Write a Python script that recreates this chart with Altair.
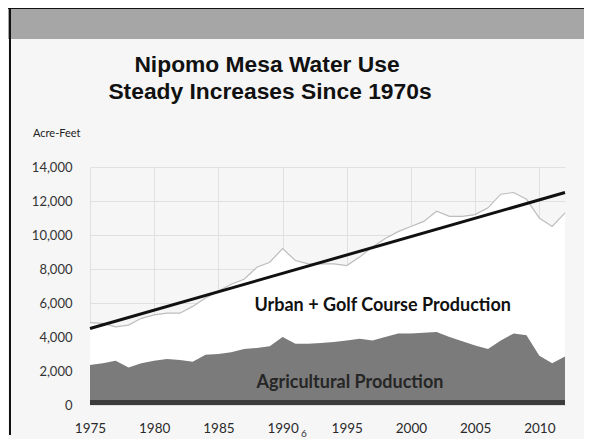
import altair as alt
import pandas as pd

years = list(range(1975, 2013))
total = [4850, 4800, 4600, 4700, 5100, 5300, 5400, 5400, 5800, 6300,
         6700, 7100, 7400, 8100, 8400, 9200, 8500, 8300, 8300, 8300,
         8200, 8700, 9300, 9800, 10200, 10500, 10800, 11400, 11100, 11100,
         11200, 11600, 12400, 12500, 12100, 11000, 10500, 11300]
ag = [2350, 2450, 2600, 2200, 2450, 2600, 2700, 2650, 2550, 2950,
      3000, 3100, 3300, 3350, 3450, 4000, 3600, 3600, 3650, 3700,
      3800, 3900, 3800, 4000, 4200, 4200, 4250, 4300, 4000, 3750,
      3500, 3300, 3800, 4200, 4100, 2900, 2450, 2850]
base = [300] * len(years)

trend_years = [1975, 2012]
trend_vals = [4500, 12500]

x_ticks = [1975, 1980, 1985, 1990, 1995, 2000, 2005, 2010]
y_ticks = [0, 2000, 4000, 6000, 8000, 10000, 12000, 14000]

title_lines = ["Nipomo Mesa Water Use", "Steady Increases Since 1970s"]

df = pd.DataFrame({"year": years, "total": total, "ag": ag, "base": base})
tdf = pd.DataFrame({"year": trend_years, "v": trend_vals})

FONT = "Lato"

xscale = alt.Scale(domain=[1975, 2012], nice=False, zero=False)
yscale = alt.Scale(domain=[0, 14000], nice=False)
xaxis = alt.Axis(values=x_ticks, format="d", title=None, tickSize=0,
                 labelPadding=16, domain=False, grid=True, labelFlush=False,
                 gridColor="#e0e0e0", labelFont=FONT, labelFontSize=13.5,
                 labelColor="#2a2a2a")
yaxis = alt.Axis(values=y_ticks, format=",d", title=None, tickSize=0,
                 labelPadding=18, domain=False, grid=True, labelFlush=False,
                 gridColor="#e0e0e0", labelFont=FONT, labelFontSize=13,
                 labelColor="#333333")


def X(f):
    return alt.X(f, scale=xscale, axis=xaxis, title=None)


def Y(f):
    return alt.Y(f, scale=yscale, axis=yaxis, title=None)


b = alt.Chart(df)
urban = b.mark_area(color="white", opacity=1).encode(x=X("year:Q"), y=Y("total:Q"), y2="ag:Q")
urban_line = b.mark_line(color="#bdbdbd", strokeWidth=1.2).encode(x=X("year:Q"), y=Y("total:Q"))
agri = b.mark_area(color="#7b7b7b", opacity=1).encode(x=X("year:Q"), y=Y("ag:Q"), y2=alt.datum(0))
strip = b.mark_area(color="#3c3c3c", opacity=1).encode(x=X("year:Q"), y=Y("base:Q"), y2=alt.datum(0))
trend = alt.Chart(tdf).mark_line(color="#111111", strokeWidth=3).encode(x=X("year:Q"), y=Y("v:Q"))

labels = pd.DataFrame({
    "year": [1997.8, 1995.25],
    "v": [5850, 1290],
    "t": ["Urban + Golf Course Production", "Agricultural Production"],
    "c": ["#111111", "#262626"],
})
lab = alt.Chart(labels).mark_text(font=FONT, fontSize=18, fontWeight="bold",
                                  align="center", baseline="middle").encode(
    x=X("year:Q"), y=Y("v:Q"), text="t:N", color=alt.Color("c:N", scale=None))

# decorations (slide frame)
deco = pd.DataFrame({"k": [1]})
band = alt.Chart(deco).mark_rect(color="#a6a6a6").encode(
    x=alt.value(-82), x2=alt.value(494), y=alt.value(-159), y2=alt.value(-128))
frame_top = alt.Chart(deco).mark_rule(color="#111111", strokeWidth=2).encode(
    x=alt.value(-82), x2=alt.value(494), y=alt.value(-159))
frame_left = alt.Chart(deco).mark_rule(color="#111111", strokeWidth=2).encode(
    x=alt.value(-80), y=alt.value(-159), y2=alt.value(268))

title1 = alt.Chart(deco).mark_text(text=title_lines[0], font="Liberation Sans", fontSize=22.8,
                                   fontWeight="bold", align="center", baseline="alphabetic",
                                   color="#111111").encode(x=alt.value(177), y=alt.value(-95))
title2 = alt.Chart(deco).mark_text(text=title_lines[1], font="Liberation Sans", fontSize=22.8,
                                   fontWeight="bold", align="center", baseline="alphabetic",
                                   color="#111111").encode(x=alt.value(180), y=alt.value(-68))

unit = alt.Chart(deco).mark_text(text="Acre-Feet", font=FONT, fontSize=11, align="left",
                                 baseline="alphabetic", color="#222222").encode(
    x=alt.value(-57), y=alt.value(-30))
slide_no = alt.Chart(deco).mark_text(text="6", font=FONT, fontSize=10, align="left",
                                     baseline="alphabetic", color="#333333").encode(
    x=alt.value(211), y=alt.value(270))

chart = alt.layer(urban, urban_line, agri, strip, trend, lab, band, frame_top, frame_left,
                  title1, title2, unit, slide_no).properties(
    width=475, height=238,
    padding={"left": 82, "top": 159, "right": 19, "bottom": 34},
    autosize=alt.AutoSizeParams(type="none"),
    background="#f6f6f6",
).configure_view(stroke=None)

chart.save("out.html", embed_options={"renderer": "svg", "actions": False})
